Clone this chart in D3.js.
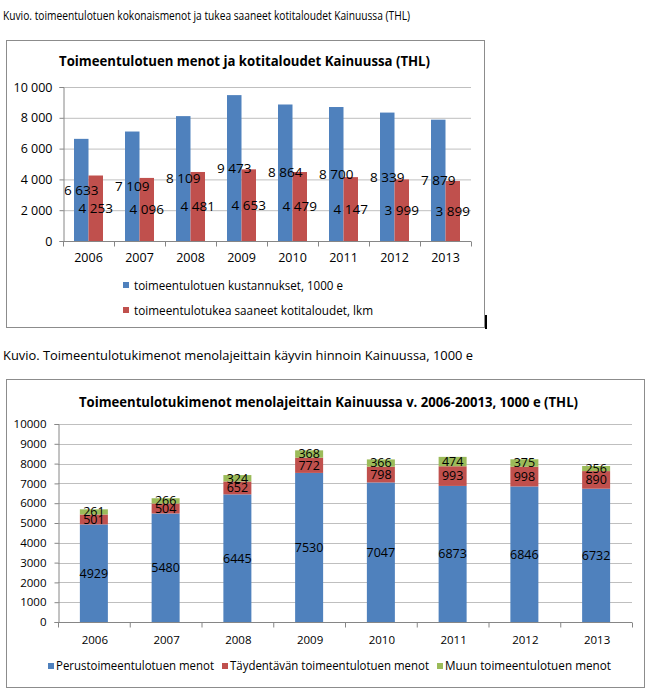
<!DOCTYPE html>
<html><head><meta charset="utf-8">
<script src="https://cdn.jsdelivr.net/npm/d3@7"></script>
<style>
html,body{margin:0;padding:0;background:#fff;}
svg{display:block;font-family:"Open Sans",sans-serif;}
</style></head>
<body>
<svg id="c" width="658" height="694"></svg>
<script>
// ---- data ----
const years = ["2006","2007","2008","2009","2010","2011","2012","2013"];
const costs = [6633,7109,8109,9473,8864,8700,8339,7879];
const households = [4253,4096,4481,4653,4479,4147,3999,3899];
const basic = [4929,5480,6445,7530,7047,6873,6846,6732];
const supplementary = [501,504,652,772,798,993,998,890];
const other = [261,266,324,368,366,474,375,256];
const ticks1 = [0,2000,4000,6000,8000,10000];
const ticks2 = [0,1000,2000,3000,4000,5000,6000,7000,8000,9000,10000];
const caption1 = "Kuvio. toimeentulotuen kokonaismenot ja tukea saaneet kotitaloudet Kainuussa (THL)";
const caption2 = "Kuvio. Toimeentulotukimenot menolajeittain käyvin hinnoin Kainuussa, 1000 e";
const title1 = "Toimeentulotuen menot ja kotitaloudet Kainuussa (THL)";
const title2 = "Toimeentulotukimenot menolajeittain Kainuussa v. 2006-20013, 1000 e (THL)";
const legend1 = ["toimeentulotuen kustannukset, 1000 e","toimeentulotukea saaneet kotitaloudet, lkm"];
const legend2 = ["Perustoimeentulotuen menot","Täydentävän toimeentulotuen menot","Muun toimeentulotuen menot"];

const BLUE="#4F81BD", RED="#C0504D", GREEN="#9BBB59";
const GRID="#bfbfbf", AXIS="#868686";
const loc = d3.formatLocale({decimal:",",thousands:"\u00a0",grouping:[3],currency:["","€"]});
const fmt = loc.format(",d");

const svg = d3.select("#c");
svg.append("rect").attr("width",658).attr("height",694).attr("fill","#fff");

function fitText(sel, w){ sel.attr("textLength", w).attr("lengthAdjust","spacingAndGlyphs"); return sel; }

// captions
fitText(svg.append("text").attr("x",3).attr("y",20).attr("font-size",13.5).attr("fill","#000").text(caption1), 407);
fitText(svg.append("text").attr("x",3).attr("y",360).attr("font-size",13.5).attr("fill","#000").text(caption2), 470);

// ---------------- Chart 1 ----------------
svg.append("rect").attr("x",6.5).attr("y",40.5).attr("width",478).attr("height",287)
  .attr("fill","#fff").attr("stroke","#8c8c8c").attr("stroke-width",1);
svg.append("rect").attr("x",485).attr("y",315).attr("width",2).attr("height",14).attr("fill","#000");

fitText(svg.append("text").attr("x",59).attr("y",66).attr("font-size",14.5).attr("font-weight","bold").text(title1), 371);

const x1 = d3.scaleBand().domain(years).range([63,471]);
const y1 = d3.scaleLinear().domain([0,10000]).range([241,87]);
const g1 = svg.append("g");

g1.selectAll("line.grid").data(ticks1.slice(1)).join("line")
  .attr("x1",63).attr("x2",471).attr("y1",d=>y1(d)+0.5).attr("y2",d=>y1(d)+0.5)
  .attr("stroke",GRID);

const bw1 = 14.5;
g1.selectAll("rect.b").data(costs).join("rect")
  .attr("x",(d,i)=>x1(years[i])+x1.bandwidth()/2-bw1).attr("width",bw1)
  .attr("y",d=>y1(d)).attr("height",d=>y1(0)-y1(d)).attr("fill",BLUE);
g1.selectAll("rect.r").data(households).join("rect")
  .attr("x",(d,i)=>x1(years[i])+x1.bandwidth()/2).attr("width",bw1)
  .attr("y",d=>y1(d)).attr("height",d=>y1(0)-y1(d)).attr("fill",RED);

// axes
const ya1 = d3.axisLeft(y1).tickValues(ticks1).tickFormat(fmt).tickSize(4).tickPadding(7);
const yg1 = svg.append("g").attr("transform","translate(63.5,0)").call(ya1);
yg1.selectAll("text").attr("font-size",12.5).attr("fill","#000").attr("font-family","Open Sans");
yg1.selectAll("line,path").attr("stroke",AXIS);

const xg1 = svg.append("g").attr("transform",`translate(0,${y1(0)+0.5})`);
xg1.append("line").attr("x1",60).attr("x2",471).attr("stroke",AXIS);
xg1.selectAll("line.t").data(years.concat(["end"])).join("line")
  .attr("x1",(d,i)=>63+i*x1.step()+0.5).attr("x2",(d,i)=>63+i*x1.step()+0.5)
  .attr("y1",0).attr("y2",5).attr("stroke",AXIS);
xg1.selectAll("text").data(years).join("text")
  .attr("x",d=>x1(d)+x1.bandwidth()/2).attr("y",16).attr("dy","0.35em")
  .attr("text-anchor","middle").attr("font-size",12.5).text(d=>d);

// value labels
g1.selectAll("text.lb").data(costs).join("text")
  .attr("x",(d,i)=>x1(years[i])+x1.bandwidth()/2-bw1/2)
  .attr("y",d=>(y1(d)+y1(0))/2).attr("dy","0.35em")
  .attr("text-anchor","middle").attr("font-size",13.5).text(d=>fmt(d));
g1.selectAll("text.lr").data(households).join("text")
  .attr("x",(d,i)=>x1(years[i])+x1.bandwidth()/2+bw1/2)
  .attr("y",d=>(y1(d)+y1(0))/2).attr("dy","0.35em")
  .attr("text-anchor","middle").attr("font-size",13.5).text(d=>fmt(d));

// legend 1
const lg1 = [{t:legend1[0],c:BLUE,y:285,w:209},{t:legend1[1],c:RED,y:310,w:239}];
lg1.forEach(d=>{
  svg.append("rect").attr("x",123).attr("y",d.y-3).attr("width",6).attr("height",6).attr("fill",d.c);
  fitText(svg.append("text").attr("x",134).attr("y",d.y).attr("dy","0.35em").attr("font-size",13).text(d.t), d.w);
});

// ---------------- Chart 2 ----------------
svg.append("rect").attr("x",6.5).attr("y",379.5).attr("width",638).attr("height",308)
  .attr("fill","#fff").attr("stroke","#8c8c8c").attr("stroke-width",1);

fitText(svg.append("text").attr("x",79).attr("y",407).attr("font-size",14.5).attr("font-weight","bold").text(title2), 499);

const x2 = d3.scaleBand().domain(years).range([58,632]);
const y2 = d3.scaleLinear().domain([0,10000]).range([622,424]);
const g2 = svg.append("g");

g2.selectAll("line.grid").data(ticks2.slice(1)).join("line")
  .attr("x1",58).attr("x2",632).attr("y1",d=>Math.round(y2(d))+0.5).attr("y2",d=>Math.round(y2(d))+0.5)
  .attr("stroke",GRID);

const series = [basic, supplementary, other];
const colors = [BLUE, RED, GREEN];
const stackData = years.map((yr,i)=>({year:yr, s0:basic[i], s1:supplementary[i], s2:other[i]}));
const stacked = d3.stack().keys(["s0","s1","s2"])(stackData);
const bw2 = 28;
stacked.forEach((layer,k)=>{
  g2.selectAll(`rect.s${k}`).data(layer).join("rect")
    .attr("x",d=>x2(d.data.year)+x2.bandwidth()/2-bw2/2).attr("width",bw2)
    .attr("y",d=>y2(d[1])).attr("height",d=>y2(d[0])-y2(d[1])).attr("fill",colors[k]);
});

const ya2 = d3.axisLeft(y2).tickValues(ticks2).tickFormat(d3.format("d")).tickSize(4).tickPadding(8);
const yg2 = svg.append("g").attr("transform","translate(58.5,0)").call(ya2);
yg2.selectAll("text").attr("font-size",11.5).attr("fill","#000").attr("font-family","Open Sans");
yg2.selectAll("line,path").attr("stroke",AXIS);

const xg2 = svg.append("g").attr("transform",`translate(0,${y2(0)+0.5})`);
xg2.append("line").attr("x1",55).attr("x2",632).attr("stroke",AXIS);
xg2.selectAll("line.t").data(years.concat(["end"])).join("line")
  .attr("x1",(d,i)=>58+i*x2.step()+0.5).attr("x2",(d,i)=>58+i*x2.step()+0.5)
  .attr("y1",0).attr("y2",5).attr("stroke",AXIS);
xg2.selectAll("text").data(years).join("text")
  .attr("x",d=>x2(d)+x2.bandwidth()/2+1).attr("y",17).attr("dy","0.35em")
  .attr("text-anchor","middle").attr("font-size",11.5).text(d=>d);

stacked.forEach((layer,k)=>{
  g2.selectAll(`text.l${k}`).data(layer).join("text")
    .attr("x",d=>x2(d.data.year)+x2.bandwidth()/2)
    .attr("y",d=>(y2(d[0])+y2(d[1]))/2).attr("dy","0.35em")
    .attr("text-anchor","middle").attr("font-size",12.5).text(d=>d[1]-d[0]);
});

// legend 2
const lg2 = [{t:legend2[0],c:BLUE,x:48,w:158},{t:legend2[1],c:RED,x:222,w:199},{t:legend2[2],c:GREEN,x:437,w:166}];
lg2.forEach(d=>{
  svg.append("rect").attr("x",d.x).attr("y",663).attr("width",6).attr("height",6).attr("fill",d.c);
  fitText(svg.append("text").attr("x",d.x+8).attr("y",666).attr("dy","0.35em").attr("font-size",12.5).text(d.t), d.w);
});
</script>
</body></html>
